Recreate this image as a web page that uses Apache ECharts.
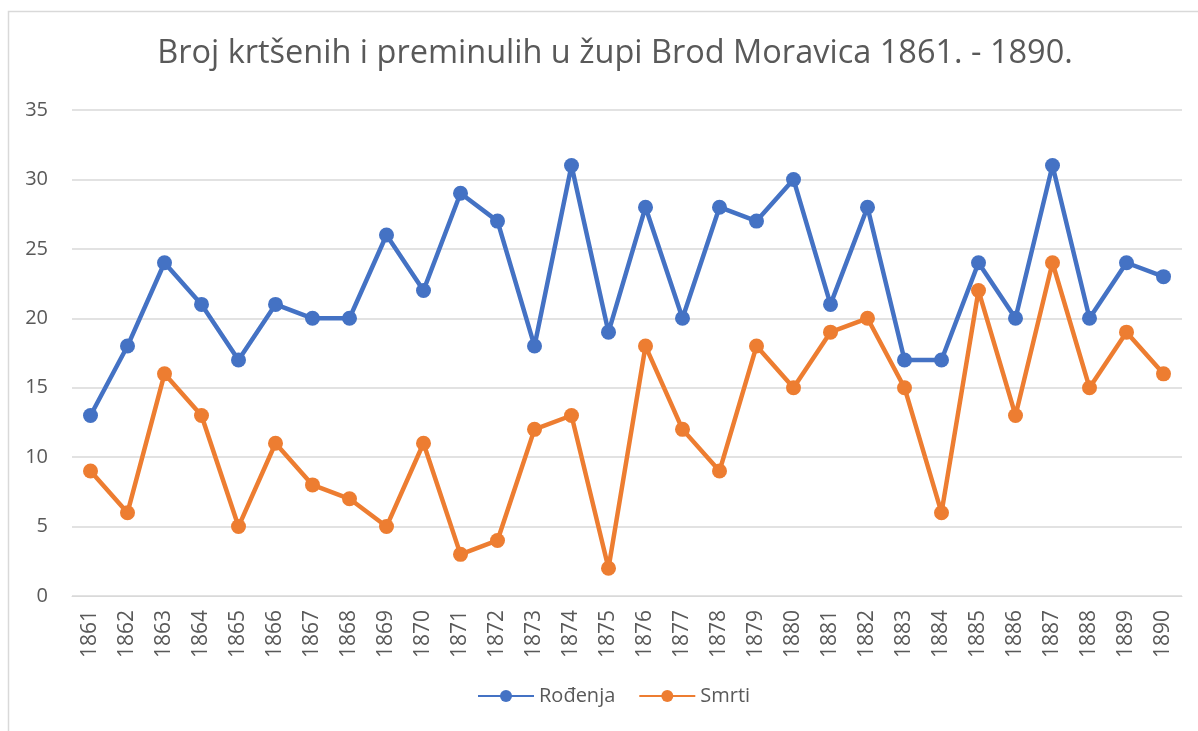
<!DOCTYPE html>
<html>
<head>
    <meta charset="utf-8">
    <title>Brod Moravica</title>
    <script src="https://cdn.jsdelivr.net/npm/echarts@6/dist/echarts.min.js"></script>
    <style>
        html, body { margin: 0; padding: 0; background: #fff; }
    </style>
</head>
<body>

<div id='line' style="width: 1198px; height: 731px;"></div>
<script type="text/javascript">
    var years = ['1861','1862','1863','1864','1865','1866','1867','1868','1869','1870',
                 '1871','1872','1873','1874','1875','1876','1877','1878','1879','1880',
                 '1881','1882','1883','1884','1885','1886','1887','1888','1889','1890'];
    var rodjenja = [13,18,24,21,17,21,20,20,26,22,29,27,18,31,19,28,20,28,27,30,21,28,17,17,24,20,31,20,24,23];
    var smrti = [9,6,16,13,5,11,8,7,5,11,3,4,12,13,2,18,12,9,18,15,19,20,15,6,22,13,24,15,19,16];

    var font = '"Open Sans", sans-serif';
    var myLine = echarts.init(document.getElementById('line'));
    var lineOption = {
        animation: false,
        textStyle: { fontFamily: font },
        title : {
            text : 'Broj krtšenih i preminulih u župi Brod Moravica 1861. - 1890.',
            left : 610,
            textAlign : 'center',
            top : 32,
            textStyle : { fontFamily: font, fontSize: 32.5, fontWeight: 'normal', color: '#595959' }
        },
        graphic : [{
            type: 'rect',
            shape: { x: 8.5, y: 11.5, width: 1200, height: 730 },
            style: { fill: 'none', stroke: '#d9d9d9', lineWidth: 1.5 }
        }],
        legend : {
            data : ['Rođenja', 'Smrti'],
            bottom : 20,
            left : 472,
            itemWidth : 56,
            itemHeight : 15,
            itemGap : 23,
            textStyle : { fontFamily: font, fontSize: 20, color: '#595959' }
        },
        grid : {
            left : 72,
            right : 16,
            top : 110,
            bottom : 135
        },
        xAxis : [ {
            type : 'category',
            boundaryGap : true,
            data : years,
            axisLine: { show: true, lineStyle: { color: '#d9d9d9' } },
            axisTick: { show: false },
            axisLabel: { rotate: 90, interval: 0, fontSize: 21, color: '#595959', margin: 14, fontFamily: font }
        } ],
        yAxis : [ {
            type : 'value',
            min : 0,
            max : 35,
            interval : 5,
            axisLine: { show: false },
            axisTick: { show: false },
            splitLine: { lineStyle: { color: '#d9d9d9', width: 1.5 } },
            axisLabel : { fontSize: 20, color: '#595959', margin: 24, fontFamily: font }
        } ],
        series : [{
            name: 'Rođenja',
            type: 'line',
            data: rodjenja,
            symbol: 'circle',
            symbolSize: 15,
            color: '#4472C4',
            lineStyle: { width: 4.5 }
        }, {
            name: 'Smrti',
            type: 'line',
            data: smrti,
            symbol: 'circle',
            symbolSize: 15,
            color: '#ED7D31',
            lineStyle: { width: 4.5 }
        }]
    };
    myLine.setOption(lineOption);
</script>
</body>
</html>
